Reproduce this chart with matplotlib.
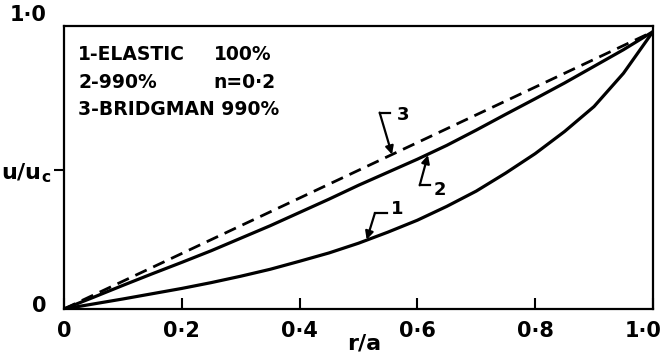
import matplotlib.pyplot as plt
from matplotlib.transforms import ScaledTranslation

# r/a positions and u/uc values
r_a = [0.0, 0.05, 0.1, 0.15, 0.2, 0.25, 0.3, 0.35, 0.4, 0.45, 0.5,
       0.55, 0.6, 0.65, 0.7, 0.75, 0.8, 0.85, 0.9, 0.95, 1.0]
elastic = [0.0, 0.018, 0.036, 0.055, 0.074, 0.095, 0.118, 0.143, 0.172, 0.202, 0.237,
           0.277, 0.32, 0.37, 0.425, 0.49, 0.56, 0.64, 0.73, 0.85, 1.0]
n02 = [0.0, 0.042, 0.085, 0.127, 0.168, 0.21, 0.255, 0.3, 0.348, 0.396, 0.446,
       0.493, 0.54, 0.59, 0.645, 0.702, 0.758, 0.815, 0.875, 0.935, 1.0]
bridgman_x = [0.0, 1.0]
bridgman_y = [0.0, 1.0]

xticks = [0.0, 0.2, 0.4, 0.6, 0.8, 1.0]
xlabels = ['0', '0·2', '0·4', '0·6', '0·8', '1·0']
legend_lines = ['1-ELASTIC', '2-990%', '3-BRIDGMAN 990%']
legend_right = ['100%', 'n=0·2', '']

plt.rcParams['font.family'] = 'DejaVu Sans'
plt.rcParams['font.weight'] = 'bold'

fig = plt.figure(figsize=(6.7, 3.58), dpi=100)
ax = fig.add_axes([0.0955, 0.137, 0.879, 0.790])

ax.plot(r_a, elastic, color='black', lw=2.3, solid_capstyle='round')
ax.plot(r_a, n02, color='black', lw=2.3, solid_capstyle='round')
ax.plot(bridgman_x, bridgman_y, color='black', lw=2.0, linestyle=(0, (4.5, 2.6)))

ax.set_xlim(0, 1.0)
ax.set_ylim(0, 1.02)
for s in ax.spines.values():
    s.set_linewidth(1.6)

ax.set_xticks(xticks)
ax.set_xticklabels(xlabels, fontsize=15, fontweight='bold')
ax.tick_params(axis='x', direction='in', length=8, width=1.5, pad=9)
# keep the last label inside the figure
last = ax.get_xticklabels()[-1]
last.set_transform(last.get_transform() + ScaledTranslation(-7 / 72, 0, fig.dpi_scale_trans))

ax.set_yticks([0.5])
ax.set_yticklabels([r'$\mathbf{u/u_c}$'], fontsize=16)
ax.tick_params(axis='y', direction='out', length=7, width=1.5, pad=2)

# y end labels
ax.text(-0.03, 1.06, '1·0', fontsize=15, fontweight='bold', ha='right', va='center', clip_on=False)
ax.text(-0.03, 0.01, '0', fontsize=15, fontweight='bold', ha='right', va='center', clip_on=False)
ax.text(0.51, -0.125, 'r/a', fontsize=16, fontweight='bold', ha='center', va='center', clip_on=False)

# legend text block
for i, (txt, rt) in enumerate(zip(legend_lines, legend_right)):
    yy = 0.918 - i * 0.10
    ax.text(0.024, yy, txt, fontsize=13.5, fontweight='bold', ha='left', va='center')
    if rt:
        ax.text(0.254, yy, rt, fontsize=13.5, fontweight='bold', ha='left', va='center')

# curve labels with bent leader arrows
labels = ['3', '2', '1']
tips = [(0.557, 0.557), (0.618, 0.555), (0.514, 0.25)]
corners = [(0.536, 0.708), (0.604, 0.446), (0.528, 0.346)]
ends = [(0.553, 0.708), (0.621, 0.446), (0.548, 0.346)]
text_pos = [(0.575, 0.70), (0.638, 0.43), (0.566, 0.36)]
for lab, tip, c, e, tp in zip(labels, tips, corners, ends, text_pos):
    ax.plot([c[0], e[0]], [c[1], e[1]], color='black', lw=1.6)
    ax.annotate('', xy=tip, xytext=c,
                arrowprops=dict(arrowstyle='-|>', color='black', lw=1.6,
                                mutation_scale=12, shrinkA=0, shrinkB=0))
    ax.text(tp[0], tp[1], lab, fontsize=13, fontweight='bold', ha='center', va='center')

plt.savefig('out.png', dpi=100)
plt.close()
